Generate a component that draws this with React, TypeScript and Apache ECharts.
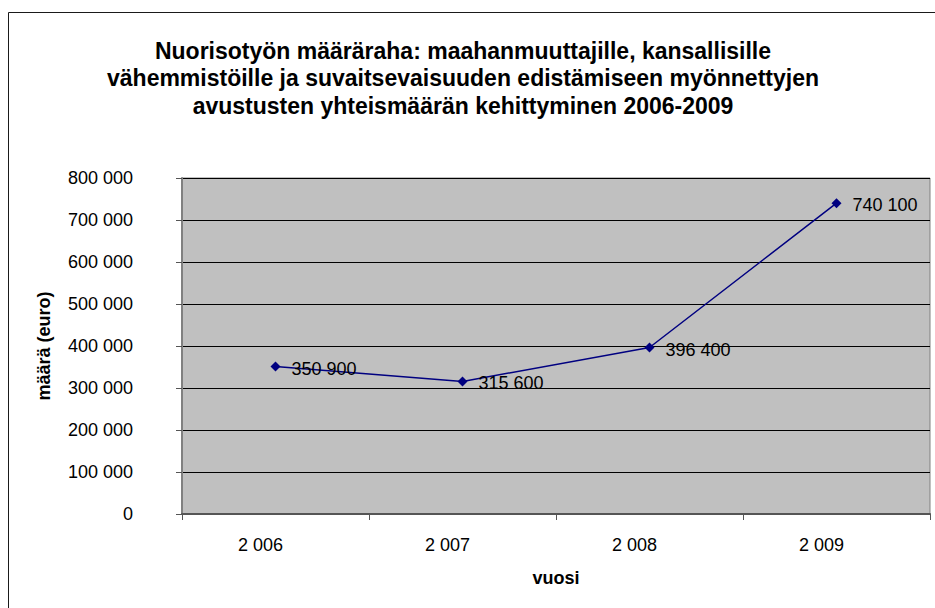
import React, { useEffect, useRef } from "react";
import * as echarts from "echarts";

const titleLines = [
  "Nuorisotyön määräraha: maahanmuuttajille, kansallisille",
  "vähemmistöille ja suvaitsevaisuuden edistämiseen myönnettyjen",
  "avustusten yhteismäärän kehittyminen 2006-2009",
];
const years = ["2006", "2007", "2008", "2009"];
const amounts = [350900, 315600, 396400, 740100];
const yAxisName = "määrä (euro)";
const xAxisName = "vuosi";

const fmt = (v: number | string) =>
  String(v).replace(/\B(?=(\d{3})+(?!\d))/g, " ");

export default function App() {
  const ref = useRef<HTMLDivElement>(null);
  useEffect(() => {
    if (!ref.current) return;
    const chart = echarts.init(ref.current, null, { renderer: "svg" });
    const font = "Liberation Sans, Arial, sans-serif";
    chart.setOption({
      animation: false,
      backgroundColor: "#ffffff",
      textStyle: { fontFamily: font },
      title: {
        text: titleLines.join("\n"),
        left: 463,
        top: 37,
        padding: 0,
        textAlign: "center",
        textStyle: {
          fontFamily: font,
          fontSize: 23,
          fontWeight: "bold",
          color: "#000",
          lineHeight: 27.5,
        },
      },
      graphic: [
        {
          type: "rect",
          shape: { x: 8.5, y: 12.5, width: 1200, height: 900 },
          style: { fill: "none", stroke: "#1a1a1a", lineWidth: 1 },
          silent: true,
          z: -1,
        },
      ],
      grid: {
        left: 182,
        top: 178,
        width: 748,
        height: 336,
        show: true,
        backgroundColor: "#c0c0c0",
        borderColor: "#808080",
        borderWidth: 1,
      },
      xAxis: {
        type: "category",
        data: years,
        boundaryGap: true,
        name: xAxisName,
        nameLocation: "middle",
        nameGap: 55,
        nameTextStyle: { fontFamily: font, fontSize: 18, fontWeight: "bold", color: "#000" },
        axisLine: { show: true, lineStyle: { color: "#555", width: 2 } },
        axisTick: { show: true, alignWithLabel: false, length: 6, lineStyle: { color: "#555", width: 1 } },
        axisLabel: {
          fontFamily: font,
          fontSize: 18,
          color: "#000",
          margin: 22,
          padding: [0, 30, 0, 0],
          formatter: (v: string) => fmt(v),
        },
        splitLine: { show: false },
      },
      yAxis: {
        type: "value",
        min: 0,
        max: 800000,
        interval: 100000,
        name: yAxisName,
        nameLocation: "middle",
        nameRotate: 90,
        nameGap: 129,
        nameTextStyle: { fontFamily: font, fontSize: 18, fontWeight: "bold", color: "#000" },
        axisLine: { show: true, lineStyle: { color: "#808080", width: 2 } },
        axisTick: { show: true, length: 6, lineStyle: { color: "#555", width: 1 } },
        axisLabel: {
          fontFamily: font,
          fontSize: 18,
          color: "#000",
          margin: 49,
          formatter: (v: number) => fmt(v),
        },
        splitLine: { show: true, lineStyle: { color: "#000", width: 1 } },
      },
      series: [
        {
          type: "line",
          data: amounts,
          symbol: "diamond",
          symbolSize: 10,
          itemStyle: { color: "#000080" },
          lineStyle: { color: "#000080", width: 1.5 },
          label: {
            show: true,
            position: "right",
            distance: 11,
            offset: [0, 2],
            fontFamily: font,
            fontSize: 18,
            color: "#000",
            formatter: (p: any) => fmt(p.value),
          },
        },
      ],
    });
    return () => chart.dispose();
  }, []);
  return (
    <div
      ref={ref}
      style={{ position: "fixed", left: 0, top: 0, width: 935, height: 608 }}
    />
  );
}
